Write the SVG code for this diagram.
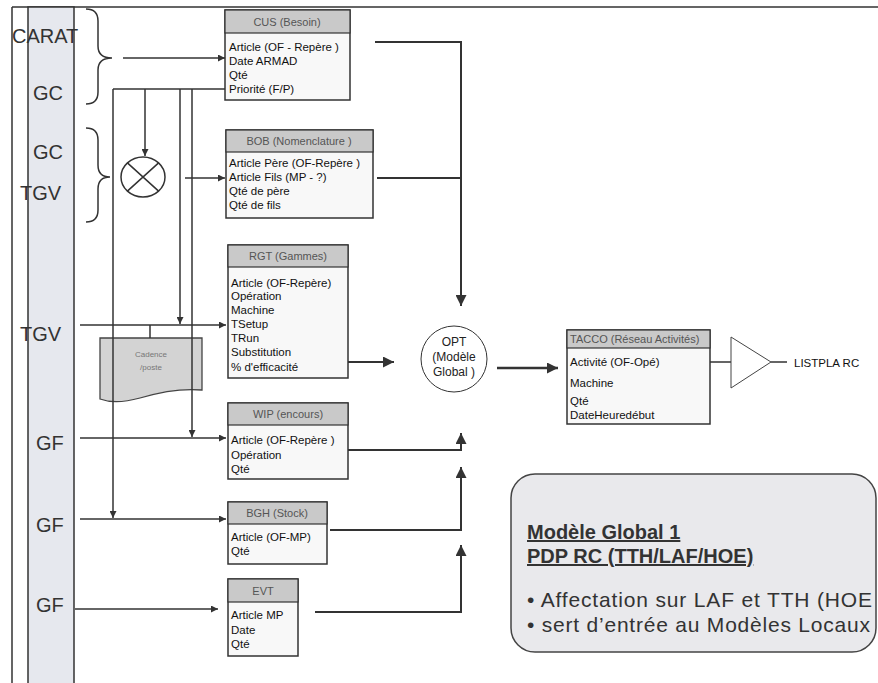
<svg xmlns="http://www.w3.org/2000/svg" width="878" height="683" viewBox="0 0 878 683">
<style>
.lbl{font-family:"Liberation Sans",Arial,sans-serif;font-size:20px;fill:#333}
.row{font-family:"Liberation Sans",Arial,sans-serif;font-size:11.5px;fill:#111}
.ttl{font-family:"Liberation Sans",Arial,sans-serif;font-size:11px;fill:#555;text-anchor:middle}
.ttls{font-family:"Liberation Sans",Arial,sans-serif;font-size:11px;fill:#555}
.box{fill:#f8f8f8;stroke:#333;stroke-width:1.5}
.bar{fill:#c9c9c9;stroke:#333;stroke-width:1.2}
.ln{fill:none;stroke:#333;stroke-width:1.5}
.lnb{fill:none;stroke:#333;stroke-width:2}
.big{font-family:"Liberation Sans",Arial,sans-serif;font-size:21px;fill:#333}
.bigb{font-family:"Liberation Sans",Arial,sans-serif;font-size:20px;font-weight:bold;fill:#333;text-decoration:underline}
.opt{font-family:"Liberation Sans",Arial,sans-serif;font-size:12px;fill:#222;text-anchor:middle}
.cad{font-family:"Liberation Sans",Arial,sans-serif;font-size:8px;fill:#777;text-anchor:middle}
</style>
<defs>
<marker id="ah" viewBox="0 0 10 10" refX="10" refY="5" markerWidth="8" markerHeight="7" orient="auto" markerUnits="userSpaceOnUse"><path d="M0,0 L10,5 L0,10 z" fill="#333"/></marker>
<marker id="ahb" viewBox="0 0 10 10" refX="10" refY="5" markerWidth="13" markerHeight="11" orient="auto" markerUnits="userSpaceOnUse"><path d="M0,0 L10,5 L0,10 z" fill="#333"/></marker>
<clipPath id="tclip"><rect x="567" y="330" width="143" height="18"/></clipPath>
</defs>
<rect width="878" height="683" fill="#fff"/>

<g id="frame">
<path class="ln" d="M12,7 H878 M12,7 V683"/>
<rect x="28" y="7" width="46" height="678" fill="#e6e8ee" stroke="#333" stroke-width="1.5"/>
</g>

<g id="left-labels">
<text class="lbl" x="12" y="43">CARAT</text>
<text class="lbl" x="33" y="100">GC</text>
<text class="lbl" x="33" y="159">GC</text>
<text class="lbl" x="20" y="200">TGV</text>
<text class="lbl" x="20" y="341">TGV</text>
<text class="lbl" x="36" y="450">GF</text>
<text class="lbl" x="36" y="532">GF</text>
<text class="lbl" x="36" y="612">GF</text>
</g>

<g id="braces">
<path class="ln" stroke="#555" d="M86,9 Q98,9 98,21 V46 Q98,58 112,58 Q98,58 98,70 V92 Q98,104 86,104"/>
<path class="ln" stroke="#555" d="M86,128 Q98,128 98,140 V165 Q98,177 110,177 Q98,177 98,189 V210 Q98,222 86,222"/>
</g>

<g id="cadence">
<path d="M100,338 H202 V390 C180,388 160,392 140,398 C122,403 108,402 100,399 Z" fill="#d3d3d3" stroke="#444" stroke-width="1.3"/>
<text class="cad" x="151" y="357">Cadence</text>
<text class="cad" x="151" y="370">/poste</text>
</g>

<g id="merge">
<ellipse cx="143" cy="177" rx="22" ry="20" fill="#fff" stroke="#333" stroke-width="1.5"/>
<path class="ln" d="M127.4,162.9 L158.6,191.1 M127.4,191.1 L158.6,162.9"/>
</g>

<g id="connectors">
<path class="ln" d="M123,58 H225" marker-end="url(#ah)"/>
<path class="ln" d="M113,89 H230"/>
<path class="ln" d="M113,89 V518" marker-end="url(#ah)"/>
<path class="ln" d="M145,89 V156" marker-end="url(#ah)"/>
<path class="ln" d="M180,89 V324" marker-end="url(#ah)"/>
<path class="ln" d="M192,89 V437" marker-end="url(#ah)"/>
<path class="ln" d="M185,178 H225" marker-end="url(#ah)"/>
<path class="ln" d="M80,325 H226" marker-end="url(#ah)"/>
<path class="ln" d="M150,325 V338"/>
<path class="ln" d="M80,438 H226" marker-end="url(#ah)"/>
<path class="ln" d="M80,519 H226" marker-end="url(#ah)"/>
<path class="ln" d="M75,609 H218" marker-end="url(#ah)"/>
<path class="lnb" d="M375,42 H461 V306" marker-end="url(#ahb)"/>
<path class="lnb" d="M377,178 H461"/>
<path class="lnb" d="M348,362 H394" marker-end="url(#ahb)"/>
<path class="lnb" d="M348,450 H461 V433" marker-end="url(#ahb)"/>
<path class="lnb" d="M330,530 H461 V467" marker-end="url(#ahb)"/>
<path class="lnb" d="M315,612 H461 V545" marker-end="url(#ahb)"/>
<path d="M497,368 H558" fill="none" stroke="#333" stroke-width="2.5" marker-end="url(#ahb)"/>
<path class="ln" stroke-width="1" d="M710,362 H731 M771,362 H787"/>
</g>

<g id="cus">
<rect class="box" x="225" y="10" width="125" height="90"/>
<rect class="bar" x="225" y="10" width="125" height="23"/>
<text class="ttl" x="287" y="26">CUS (Besoin)</text>
<text class="row" x="229" y="51">Article  (OF - Repère )</text>
<text class="row" x="229" y="65">Date ARMAD</text>
<text class="row" x="229" y="79">Qté</text>
<text class="row" x="229" y="93">Priorité  (F/P)</text>
</g>

<g id="bob">
<rect class="box" x="226" y="130" width="147" height="88"/>
<rect class="bar" x="226" y="130" width="147" height="22"/>
<text class="ttl" x="299" y="145">BOB (Nomenclature )</text>
<text class="row" x="229" y="167">Article Père  (OF-Repère )</text>
<text class="row" x="229" y="181">Article Fils  (MP - ?)</text>
<text class="row" x="229" y="195">Qté de père</text>
<text class="row" x="229" y="209">Qté de fils</text>
</g>

<g id="rgt">
<rect class="box" x="228" y="245" width="120" height="133"/>
<rect class="bar" x="228" y="245" width="120" height="22"/>
<text class="ttl" x="288" y="260">RGT (Gammes)</text>
<text class="row" x="231" y="287">Article (OF-Repère)</text>
<text class="row" x="231" y="300">Opération</text>
<text class="row" x="231" y="314">Machine</text>
<text class="row" x="231" y="328">TSetup</text>
<text class="row" x="231" y="342">TRun</text>
<text class="row" x="231" y="356">Substitution</text>
<text class="row" x="231" y="371">% d'efficacité</text>
</g>

<g id="wip">
<rect class="box" x="228" y="403" width="120" height="76"/>
<rect class="bar" x="228" y="403" width="120" height="22"/>
<text class="ttl" x="288" y="418">WIP (encours)</text>
<text class="row" x="231" y="444">Article  (OF-Repère )</text>
<text class="row" x="231" y="459">Opération</text>
<text class="row" x="231" y="473">Qté</text>
</g>

<g id="bgh">
<rect class="box" x="228" y="502" width="99" height="62"/>
<rect class="bar" x="228" y="502" width="99" height="22"/>
<text class="ttl" x="277" y="517">BGH (Stock)</text>
<text class="row" x="231" y="541">Article (OF-MP)</text>
<text class="row" x="231" y="555">Qté</text>
</g>

<g id="evt">
<rect class="box" x="228" y="579" width="70" height="77"/>
<rect class="bar" x="228" y="579" width="70" height="23"/>
<text class="ttl" x="263" y="595">EVT</text>
<text class="row" x="231" y="619">Article MP</text>
<text class="row" x="231" y="634">Date</text>
<text class="row" x="231" y="648">Qté</text>
</g>

<g id="opt">
<circle cx="454" cy="359" r="33" fill="#fff" stroke="#333" stroke-width="1"/>
<text class="opt" x="454" y="346">OPT</text>
<text class="opt" x="454" y="361">(Modèle</text>
<text class="opt" x="454" y="376">Global )</text>
</g>

<g id="tacco">
<rect class="box" x="567" y="330" width="143" height="94"/>
<rect class="bar" x="567" y="330" width="143" height="18"/>
<text class="ttls" x="570" y="343" clip-path="url(#tclip)">TACCO  (Réseau Activités)</text>
<text class="row" x="570" y="366">Activité (OF-Opé)</text>
<text class="row" x="570" y="387">Machine</text>
<text class="row" x="570" y="405">Qté</text>
<text class="row" x="570" y="419">DateHeuredébut</text>
</g>

<g id="listpla">
<polygon points="731,337 771,362 731,388" fill="#fff" stroke="#444" stroke-width="1"/>
<text class="row" x="794" y="367" font-size="13" fill="#333">LISTPLA RC</text>
</g>

<g id="note">
<rect x="511" y="474" width="365" height="178" rx="24" fill="#e9e9ec" stroke="#444" stroke-width="1.5"/>
<text class="bigb" x="527" y="539">Modèle Global 1</text>
<text class="bigb" x="527" y="563">PDP RC (TTH/LAF/HOE)</text>
<text class="big" x="527" y="607" textLength="345" lengthAdjust="spacing">• Affectation sur LAF et TTH (HOE</text>
<text class="big" x="527" y="632" textLength="343" lengthAdjust="spacing">• sert d’entrée au Modèles Locaux</text>
</g>
</svg>
